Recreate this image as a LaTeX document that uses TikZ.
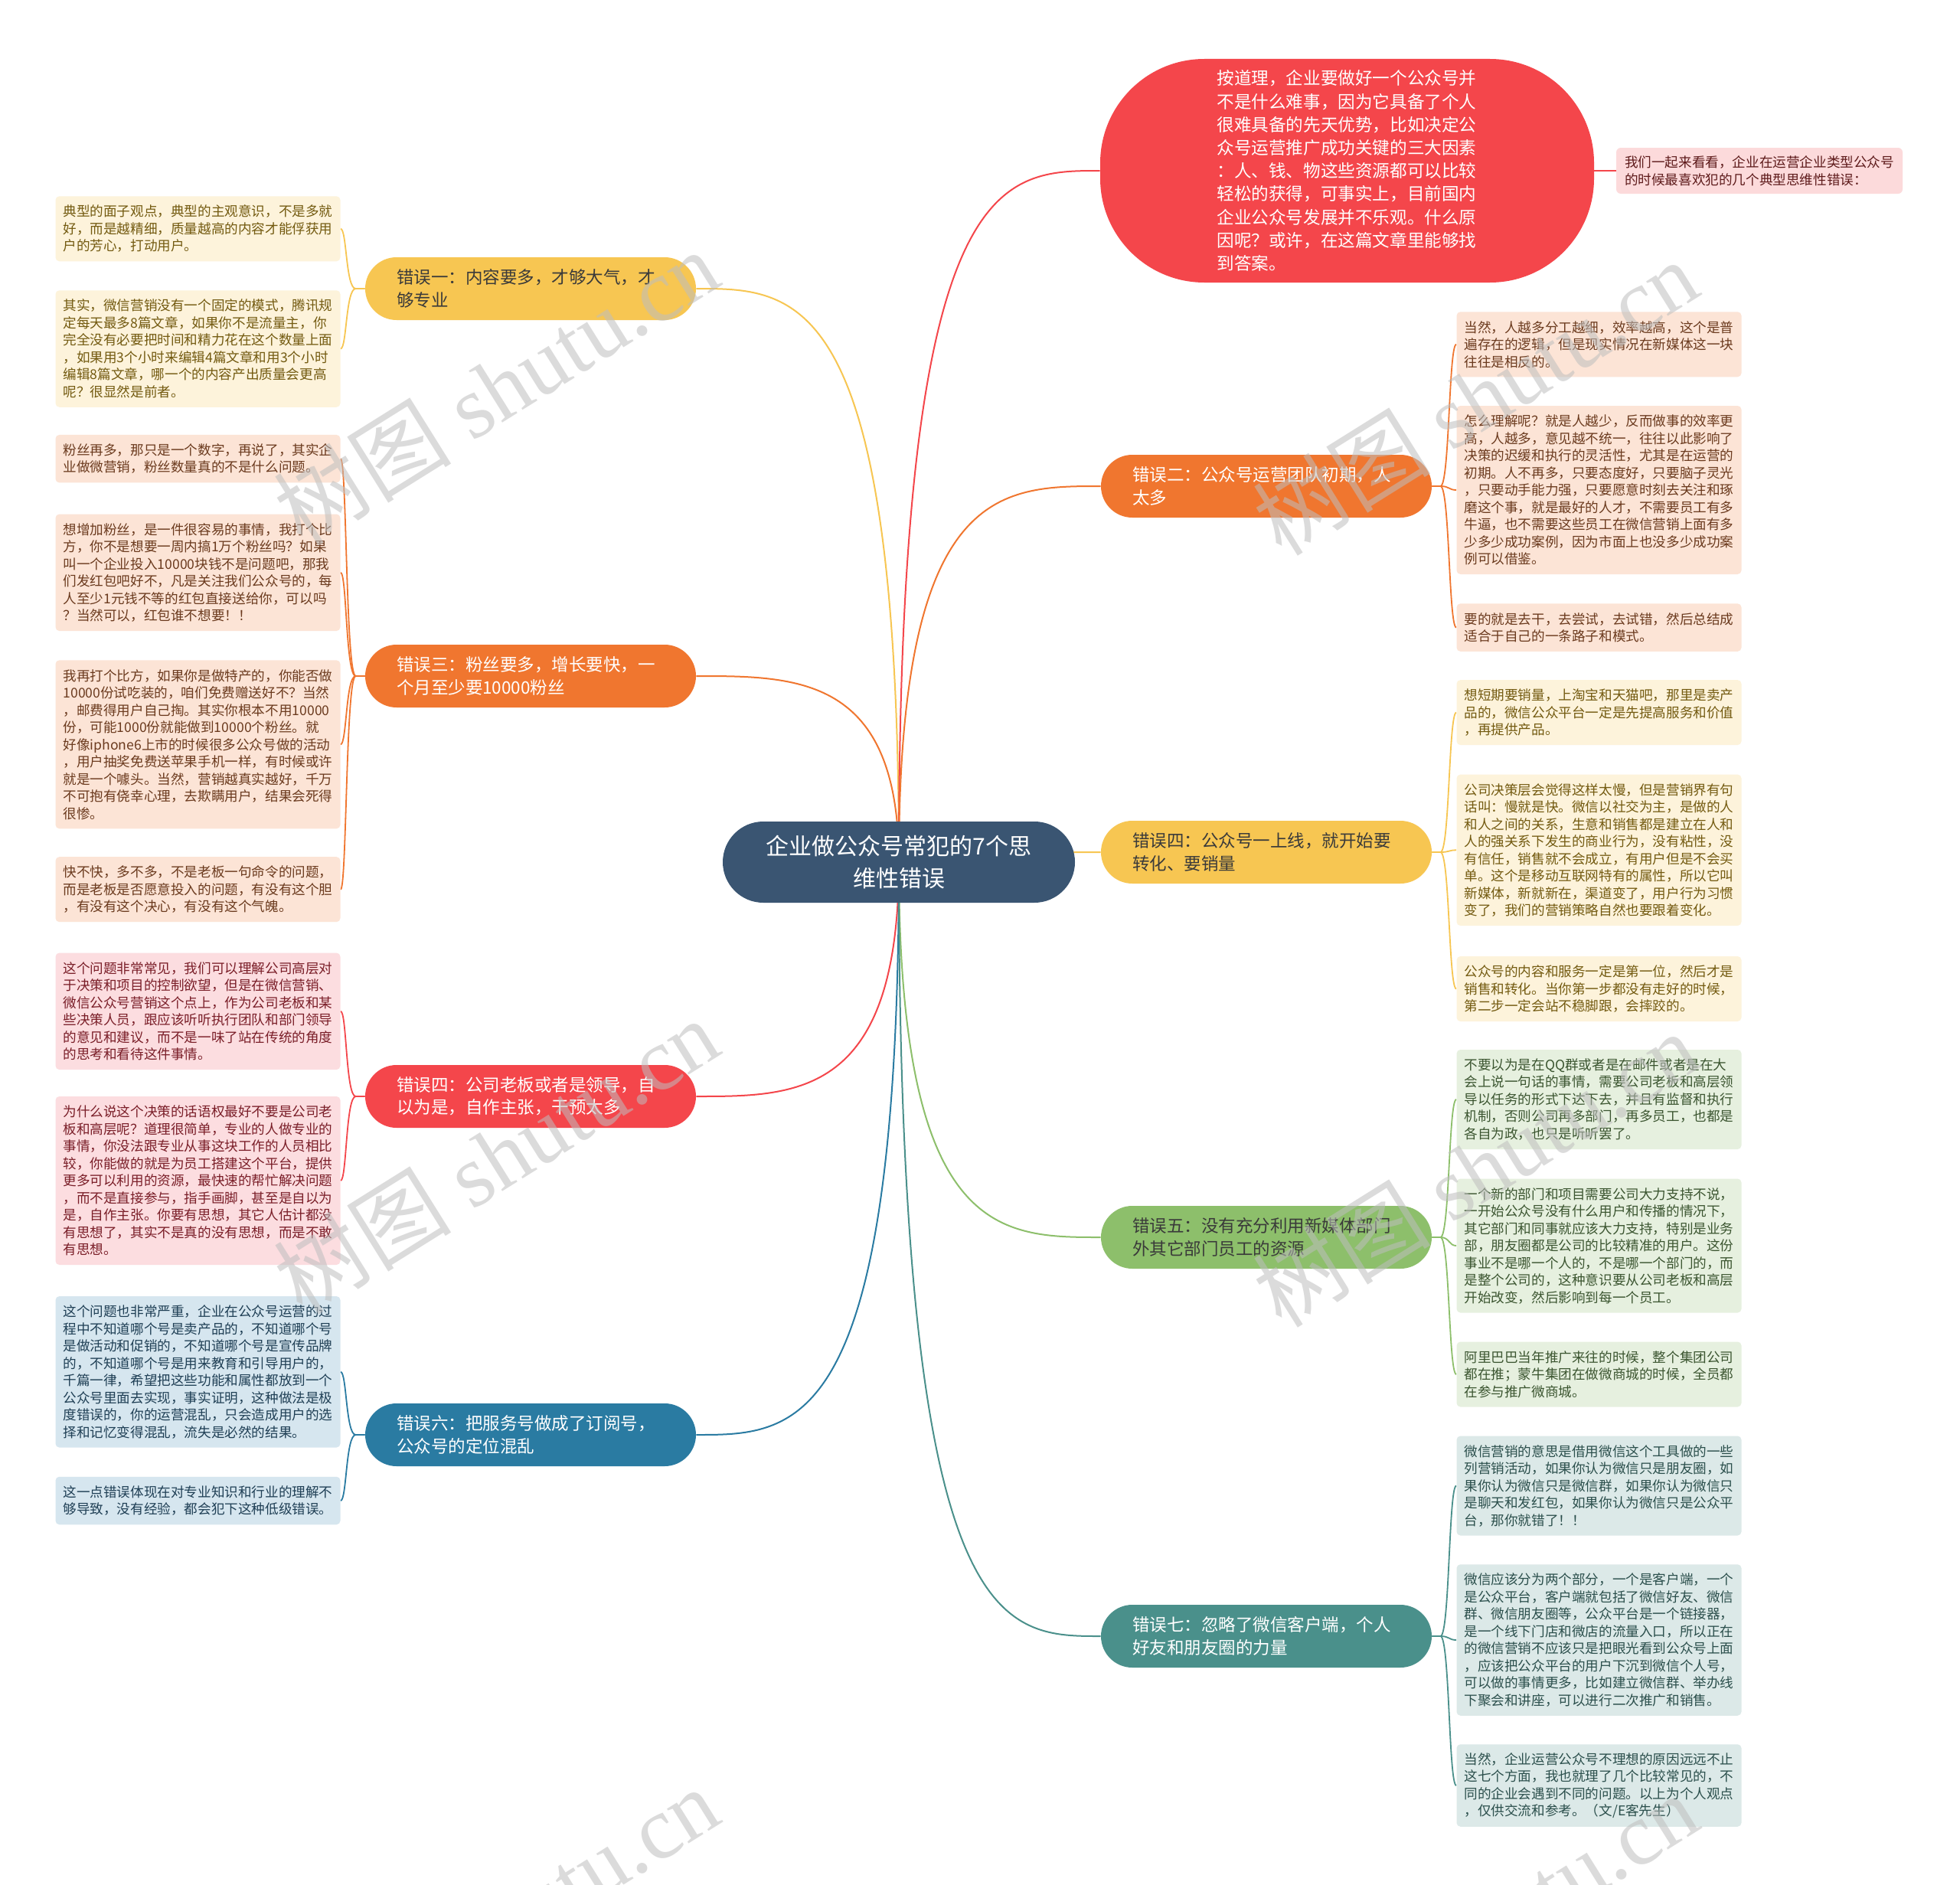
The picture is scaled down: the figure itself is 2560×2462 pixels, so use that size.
\documentclass[tikz,border=0pt]{standalone}
\usepackage{fontspec}
\setmainfont{Noto Sans CJK SC}
\newfontfamily\wmlatin{Liberation Serif}
\usetikzlibrary{calc}
\pgfdeclarelayer{bg}
\pgfdeclarelayer{fg}
\pgfsetlayers{bg,main,fg}
\definecolor{cRoot}{HTML}{3A5572}
\definecolor{cY}{HTML}{F7C652}
\definecolor{cO}{HTML}{F0762F}
\definecolor{cR}{HTML}{F4464B}
\definecolor{cB}{HTML}{2A7BA2}
\definecolor{cG}{HTML}{8DBF6B}
\definecolor{cT}{HTML}{4A908B}
\definecolor{dk}{HTML}{3A3A3A}
\definecolor{fY}{HTML}{FDF3DB}
\definecolor{tY}{HTML}{735A10}
\definecolor{fO}{HTML}{FCE4D6}
\definecolor{tO}{HTML}{6B3A1E}
\definecolor{fR}{HTML}{FCDDE0}
\definecolor{tR}{HTML}{7A1E28}
\definecolor{fB}{HTML}{D6E6EF}
\definecolor{tB}{HTML}{1F3F55}
\definecolor{fG}{HTML}{E6F0DF}
\definecolor{tG}{HTML}{3B5530}
\definecolor{fT}{HTML}{DCE9E8}
\definecolor{tT}{HTML}{2B4F4C}
\definecolor{fN}{HTML}{FCDADB}
\definecolor{tN}{HTML}{5E1B1B}
\definecolor{wmc}{HTML}{BEBEBE}
\begin{document}
\begin{tikzpicture}[x=0.5pt,y=-0.5pt,
  leafbox/.style={rounded corners=2.5pt, text width=176pt, inner xsep=5pt, inner ysep=1pt, align=left, font=\fontsize{8.8pt}{11.25pt}\selectfont},
  nl/.style={minimum height={#1*11.25pt+8.75pt}},
  lY/.style={leafbox, fill=fY, text=tY},
  lO/.style={leafbox, fill=fO, text=tO},
  lR/.style={leafbox, fill=fR, text=tR},
  lB/.style={leafbox, fill=fB, text=tB},
  lG/.style={leafbox, fill=fG, text=tG},
  lT/.style={leafbox, fill=fT, text=tT},
  branchbox/.style={rounded corners=20.5pt, minimum width=216pt, minimum height=41pt, text width=175pt, inner xsep=20.5pt, inner ysep=2pt, align=left, font=\fontsize{11.25pt}{14.7pt}\selectfont},
  rootbox/.style={fill=cRoot, text=white, rounded corners=26.5pt, minimum width=230pt, minimum height=53pt, align=center, font=\fontsize{15pt}{21pt}\selectfont},
  topbox/.style={fill=cR, text=white, rounded corners=68pt, minimum width=322.5pt, minimum height=146pt, text width=170pt, inner xsep=76.25pt, align=left, font=\fontsize{11.3pt}{15.1pt}\selectfont},
  notebox/.style={fill=fN, text=tN, rounded corners=3pt, text width=176pt, inner xsep=5.5pt, inner ysep=1pt, minimum height=30pt, align=left, font=\fontsize{8.8pt}{11.4pt}\selectfont},
  mainlink/.style={line width=1pt},
  leaflink/.style={line width=0.9pt},
  wm/.style={text=wmc, opacity=0.55, rotate=32, inner sep=0pt}
]
\useasboundingbox (0,0) rectangle (2560,2462);

% root
\node[rootbox] (root) at (1174,1126) {企业做公众号常犯的7个思\\维性错误};

% branches left
\node[branchbox, fill=cY, text=dk] (b1) at (693,377) {错误一：内容要多，才够大气，才\\够专业};
\node[branchbox, fill=cO, text=white] (b3) at (693,883) {错误三：粉丝要多，增长要快，一\\个月至少要10000粉丝};
\node[branchbox, fill=cR, text=white] (b4l) at (693,1432) {错误四：公司老板或者是领导，自\\以为是，自作主张，干预太多};
\node[branchbox, fill=cB, text=white] (b6) at (693,1874) {错误六：把服务号做成了订阅号，\\公众号的定位混乱};
% branches right
\node[branchbox, fill=cO, text=white] (b2) at (1654,635) {错误二：公众号运营团队初期，人\\太多};
\node[branchbox, fill=cY, text=dk] (b4r) at (1654,1113) {错误四：公众号一上线，就开始要\\转化、要销量};
\node[branchbox, fill=cG, text=dk] (b5) at (1654,1616) {错误五：没有充分利用新媒体部门\\外其它部门员工的资源};
\node[branchbox, fill=cT, text=white] (b7) at (1654,2137) {错误七：忽略了微信客户端，个人\\好友和朋友圈的力量};

% top intro node and note
\node[topbox] (top) at (1759.5,223) {按道理，企业要做好一个公众号并\\不是什么难事，因为它具备了个人\\很难具备的先天优势，比如决定公\\众号运营推广成功关键的三大因素\\：人、钱、物这些资源都可以比较\\轻松的获得，可事实上，目前国内\\企业公众号发展并不乐观。什么原\\因呢？或许，在这篇文章里能够找\\到答案。};
\node[notebox] (note) at (2298,223) {我们一起来看看，企业在运营企业类型公众号\\的时候最喜欢犯的几个典型思维性错误：};

% left leaves
\node[lY, nl=3] (l1a) at (258.5,298.8) {典型的面子观点，典型的主观意识，不是多就\\好，而是越精细，质量越高的内容才能俘获用\\户的芳心，打动用户。};
\node[lY, nl=6] (l1b) at (258.5,455.5) {其实，微信营销没有一个固定的模式，腾讯规\\定每天最多8篇文章，如果你不是流量主，你\\完全没有必要把时间和精力花在这个数量上面\\，如果用3个小时来编辑4篇文章和用3个小时\\编辑8篇文章，哪一个的内容产出质量会更高\\呢？很显然是前者。};
\node[lO, nl=2] (l3a) at (258.5,599.2) {粉丝再多，那只是一个数字，再说了，其实企\\业做微营销，粉丝数量真的不是什么问题。};
\node[lO, nl=6] (l3b) at (258.5,747.8) {想增加粉丝，是一件很容易的事情，我打个比\\方，你不是想要一周内搞1万个粉丝吗？如果\\叫一个企业投入10000块钱不是问题吧，那我\\们发红包吧好不，凡是关注我们公众号的，每\\人至少1元钱不等的红包直接送给你，可以吗\\？当然可以，红包谁不想要！！};
\node[lO, nl=9] (l3c) at (258.5,972.3) {我再打个比方，如果你是做特产的，你能否做\\10000份试吃装的，咱们免费赠送好不？当然\\，邮费得用户自己掏。其实你根本不用10000\\份，可能1000份就能做到10000个粉丝。就\\好像iphone6上市的时候很多公众号做的活动\\，用户抽奖免费送苹果手机一样，有时候或许\\就是一个噱头。当然，营销越真实越好，千万\\不可抱有侥幸心理，去欺瞒用户，结果会死得\\很惨。};
\node[lO, nl=3] (l3d) at (258.5,1161.7) {快不快，多不多，不是老板一句命令的问题，\\而是老板是否愿意投入的问题，有没有这个胆\\，有没有这个决心，有没有这个气魄。};
\node[lR, nl=6] (l4a) at (258.5,1320.8) {这个问题非常常见，我们可以理解公司高层对\\于决策和项目的控制欲望，但是在微信营销、\\微信公众号营销这个点上，作为公司老板和某\\些决策人员，跟应该听听执行团队和部门领导\\的意见和建议，而不是一味了站在传统的角度\\的思考和看待这件事情。};
\node[lR, nl=9] (l4b) at (258.5,1542) {为什么说这个决策的话语权最好不要是公司老\\板和高层呢？道理很简单，专业的人做专业的\\事情，你没法跟专业从事这块工作的人员相比\\较，你能做的就是为员工搭建这个平台，提供\\更多可以利用的资源，最快速的帮忙解决问题\\，而不是直接参与，指手画脚，甚至是自以为\\是，自作主张。你要有思想，其它人估计都没\\有思想了，其实不是真的没有思想，而是不敢\\有思想。};
\node[lB, nl=8] (l6a) at (258.5,1791.8) {这个问题也非常严重，企业在公众号运营的过\\程中不知道哪个号是卖产品的，不知道哪个号\\是做活动和促销的，不知道哪个号是宣传品牌\\的，不知道哪个号是用来教育和引导用户的，\\千篇一律，希望把这些功能和属性都放到一个\\公众号里面去实现，事实证明，这种做法是极\\度错误的，你的运营混乱，只会造成用户的选\\择和记忆变得混乱，流失是必然的结果。};
\node[lB, nl=2] (l6b) at (258.5,1960) {这一点错误体现在对专业知识和行业的理解不\\够导致，没有经验，都会犯下这种低级错误。};

% right leaves
\node[lO, nl=3] (r2a) at (2088.5,449.8) {当然，人越多分工越细，效率越高，这个是普\\遍存在的逻辑，但是现实情况在新媒体这一块\\往往是相反的。};
\node[lO, nl=9] (r2b) at (2088.5,640) {怎么理解呢？就是人越少，反而做事的效率更\\高，人越多，意见越不统一，往往以此影响了\\决策的迟缓和执行的灵活性，尤其是在运营的\\初期。人不再多，只要态度好，只要脑子灵光\\，只要动手能力强，只要愿意时刻去关注和琢\\磨这个事，就是最好的人才，不需要员工有多\\牛逼，也不需要这些员工在微信营销上面有多\\少多少成功案例，因为市面上也没多少成功案\\例可以借鉴。};
\node[lO, nl=2] (r2c) at (2088.5,819.6) {要的就是去干，去尝试，去试错，然后总结成\\适合于自己的一条路子和模式。};
\node[lY, nl=3] (r4a) at (2088.5,930.6) {想短期要销量，上淘宝和天猫吧，那里是卖产\\品的，微信公众平台一定是先提高服务和价值\\，再提供产品。};
\node[lY, nl=8] (r4b) at (2088.5,1110.3) {公司决策层会觉得这样太慢，但是营销界有句\\话叫：慢就是快。微信以社交为主，是做的人\\和人之间的关系，生意和销售都是建立在人和\\人的强关系下发生的商业行为，没有粘性，没\\有信任，销售就不会成立，有用户但是不会买\\单。这个是移动互联网特有的属性，所以它叫\\新媒体，新就新在，渠道变了，用户行为习惯\\变了，我们的营销策略自然也要跟着变化。};
\node[lY, nl=3] (r4c) at (2088.5,1291.5) {公众号的内容和服务一定是第一位，然后才是\\销售和转化。当你第一步都没有走好的时候，\\第二步一定会站不稳脚跟，会摔跤的。};
\node[lG, nl=5] (r5a) at (2088.5,1436) {不要以为是在QQ群或者是在邮件或者是在大\\会上说一句话的事情，需要公司老板和高层领\\导以任务的形式下达下去，并且有监督和执行\\机制，否则公司再多部门，再多员工，也都是\\各自为政，也只是听听罢了。};
\node[lG, nl=7] (r5b) at (2088.5,1627) {一个新的部门和项目需要公司大力支持不说，\\一开始公众号没有什么用户和传播的情况下，\\其它部门和同事就应该大力支持，特别是业务\\部，朋友圈都是公司的比较精准的用户。这份\\事业不是哪一个人的，不是哪一个部门的，而\\是整个公司的，这种意识要从公司老板和高层\\开始改变，然后影响到每一个员工。};
\node[lG, nl=3] (r5c) at (2088.5,1795) {阿里巴巴当年推广来往的时候，整个集团公司\\都在推；蒙牛集团在做微商城的时候，全员都\\在参与推广微商城。};
\node[lT, nl=5] (r7a) at (2088.5,1940.5) {微信营销的意思是借用微信这个工具做的一些\\列营销活动，如果你认为微信只是朋友圈，如\\果你认为微信只是微信群，如果你认为微信只\\是聊天和发红包，如果你认为微信只是公众平\\台，那你就错了！！};
\node[lT, nl=8] (r7b) at (2088.5,2142) {微信应该分为两个部分，一个是客户端，一个\\是公众平台，客户端就包括了微信好友、微信\\群、微信朋友圈等，公众平台是一个链接器，\\是一个线下门店和微店的流量入口，所以正在\\的微信营销不应该只是把眼光看到公众号上面\\，应该把公众平台的用户下沉到微信个人号，\\可以做的事情更多，比如建立微信群、举办线\\下聚会和讲座，可以进行二次推广和销售。};
\node[lT, nl=4] (r7c) at (2088.5,2332) {当然，企业运营公众号不理想的原因远远不止\\这七个方面，我也就理了几个比较常见的，不\\同的企业会遇到不同的问题。以上为个人观点\\，仅供交流和参考。（文/E客先生）};

\begin{pgfonlayer}{bg}
  \fill[white] (0,0) rectangle (2560,2462);
  % main links
  \foreach \b/\c/\a in {b1/cY/east, b3/cO/east, b4l/cR/east, b6/cB/east, top/cR/west, b2/cO/west, b4r/cY/west, b5/cG/west, b7/cT/west}
    \draw[mainlink, draw=\c] (root.center) .. controls (root.center |- \b.\a) and ($(root.center |- \b.\a)!0.5!(\b.\a)$) .. (\b.\a);
  \draw[mainlink, draw=cR] (top.east) -- (note.west);
  % left leaf links
  \foreach \b/\l/\c in {b1/l1a/cY, b1/l1b/cY, b3/l3a/cO, b3/l3b/cO, b3/l3c/cO, b3/l3d/cO, b4l/l4a/cR, b4l/l4b/cR, b6/l6a/cB, b6/l6b/cB}
    \draw[leaflink, draw=\c] (\b.west) -- ++(-12,0) .. controls +(-13,0) and +(8,0) .. (\l.east);
  % right leaf links
  \foreach \b/\l/\c in {b2/r2a/cO, b2/r2b/cO, b2/r2c/cO, b4r/r4a/cY, b4r/r4b/cY, b4r/r4c/cY, b5/r5a/cG, b5/r5b/cG, b5/r5c/cG, b7/r7a/cT, b7/r7b/cT, b7/r7c/cT}
    \draw[leaflink, draw=\c] (\b.east) -- ++(11,0) .. controls +(12,0) and +(-10,0) .. (\l.west);
\end{pgfonlayer}

\begin{pgfonlayer}{fg}
  \begin{scope}
    \clip (0,0) rectangle (2560,2462);
    \foreach \p/\q in {648/506, 648/1510, 648/2514, 1927/519, 1927/1527, 1927/2522}
      \node[wm] at (\p,\q) {\fontsize{58pt}{58pt}\selectfont 树图\hspace{14pt}{\wmlatin shutu.cn}};
  \end{scope}
\end{pgfonlayer}
\end{tikzpicture}
\end{document}
